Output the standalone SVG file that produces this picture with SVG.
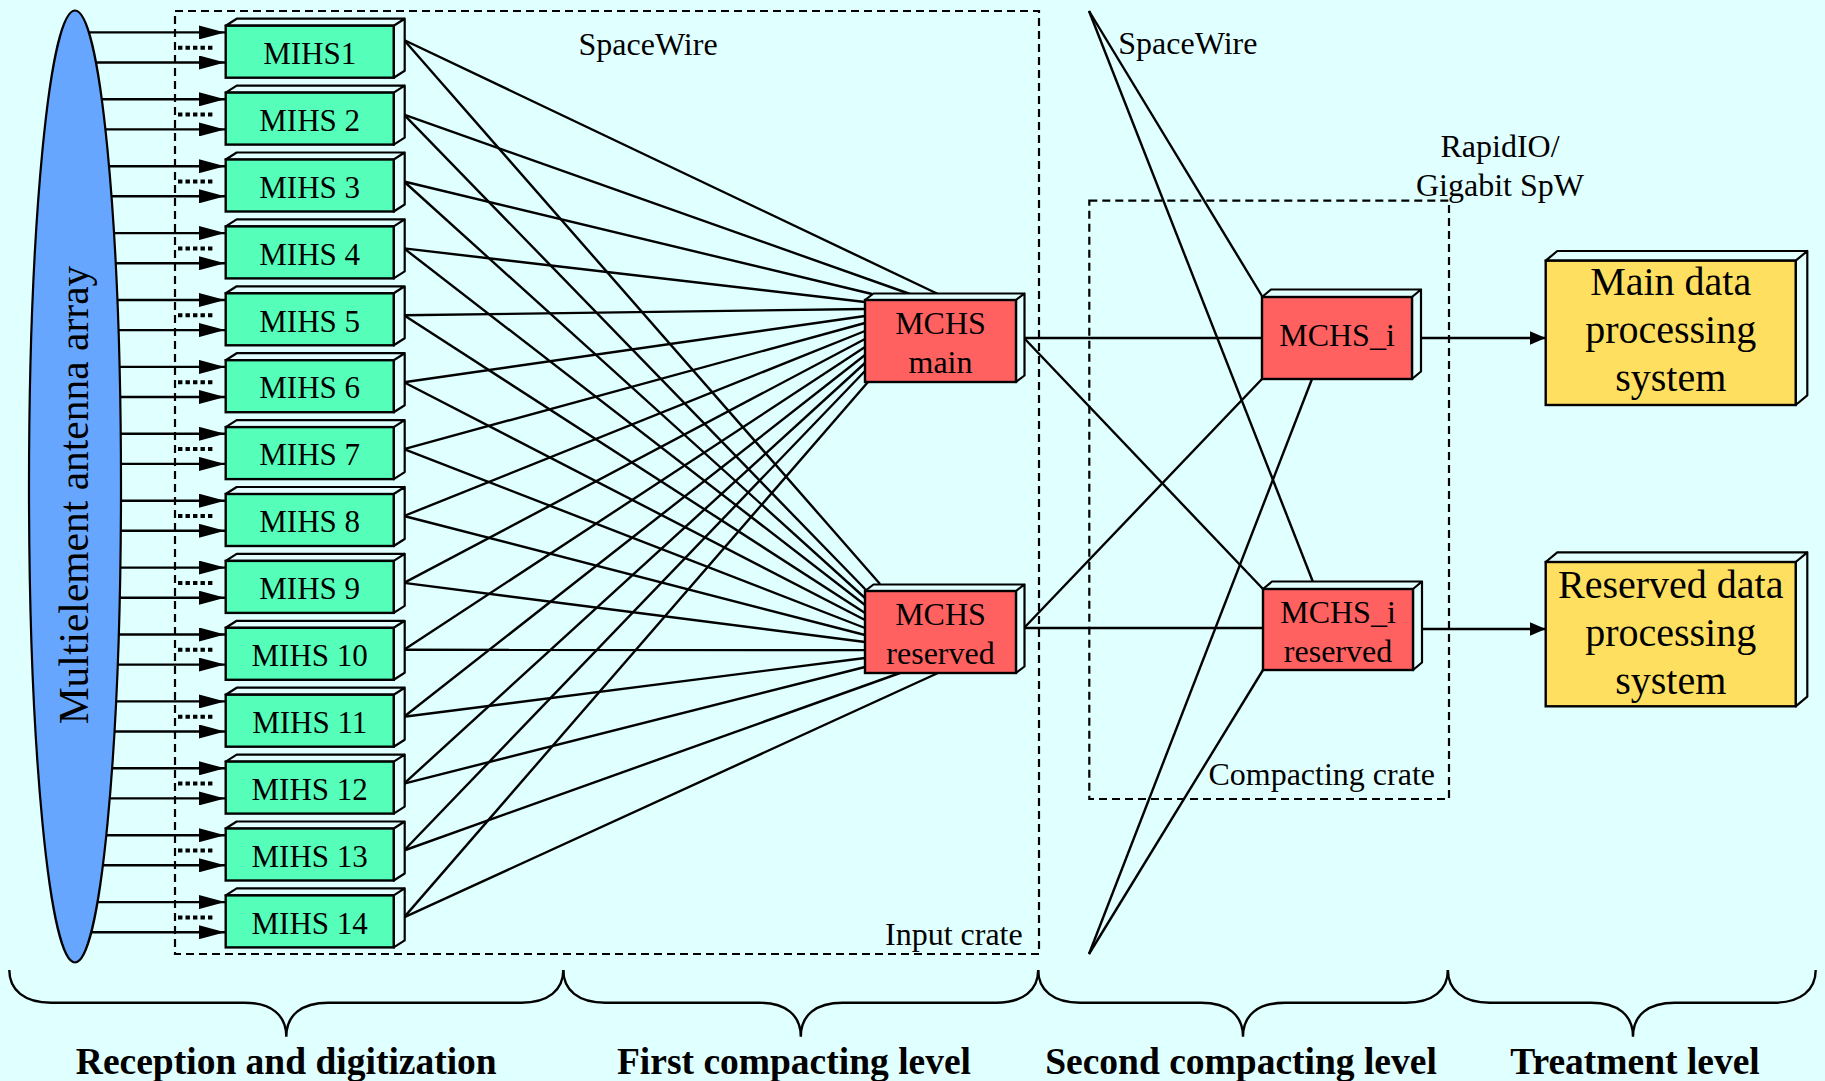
<svg xmlns="http://www.w3.org/2000/svg" width="1825" height="1081" viewBox="0 0 1825 1081">
<defs>
<style>
.t{font-family:"Liberation Serif","Times New Roman",serif;fill:#000}
.ln{stroke:#000;stroke-width:2.4;fill:none}
.arr{stroke:#000;stroke-width:2.4;fill:none;marker-end:url(#ah)}
.arr2{stroke:#000;stroke-width:2.4;fill:none;marker-end:url(#ah2)}
.dots{stroke:#000;stroke-width:4;stroke-dasharray:4.4 3.1;fill:none}
.dash{stroke:#000;stroke-width:2.2;stroke-dasharray:8 5;fill:none}
.box{stroke:#000;stroke-width:2.4}
.side{fill:#E2FFFF;stroke:#000;stroke-width:2.2;stroke-linejoin:round}
.mih{fill:#55FFB9}
.mch{fill:#FF6161}
.trt{fill:#FFDF60}
.mt{font-size:31px;text-anchor:middle}
.ct{font-size:32px;text-anchor:middle}
.tt{font-size:40px;text-anchor:middle}
.lb{font-size:32px}
.bl{font-size:37.5px;font-weight:bold;text-anchor:middle}
</style>
<marker id="ah" markerUnits="userSpaceOnUse" markerWidth="26" markerHeight="14" refX="26" refY="7" orient="auto"><path d="M0,0 L26,7 L0,14 Z" fill="#000"/></marker>
<marker id="ah2" markerUnits="userSpaceOnUse" markerWidth="16" markerHeight="14" refX="16" refY="7" orient="auto"><path d="M0,0 L16,7 L0,14 Z" fill="#000"/></marker>
</defs>
<rect x="0" y="0" width="1825" height="1081" fill="#E0FFFF"/>

<!-- crates -->
<rect class="dash" x="175" y="11" width="864" height="943"/>
<rect class="dash" x="1089.3" y="200.7" width="359.7" height="598.3"/>

<!-- antenna -->
<g id="antenna">
<ellipse cx="75" cy="486.5" rx="46" ry="476" fill="#66A6FF" stroke="#000" stroke-width="2.2"/>
<text class="t" font-size="41.5" text-anchor="middle" transform="translate(88,495) rotate(-90)">Multielement antenna array</text>
</g>

<g id="connectors">
<!-- antenna to MIHS arrows -->
<line class="arr" x1="88.8" y1="32.4" x2="225" y2="32.4"/>
<line class="arr" x1="95.9" y1="62.5" x2="225" y2="62.5"/>
<line class="arr" x1="101.8" y1="99.3" x2="225" y2="99.3"/>
<line class="arr" x1="105.4" y1="129.4" x2="225" y2="129.4"/>
<line class="arr" x1="109" y1="166.2" x2="225" y2="166.2"/>
<line class="arr" x1="111.5" y1="196.3" x2="225" y2="196.3"/>
<line class="arr" x1="113.9" y1="233.1" x2="225" y2="233.1"/>
<line class="arr" x1="115.6" y1="263.2" x2="225" y2="263.2"/>
<line class="arr" x1="117.3" y1="300" x2="225" y2="300"/>
<line class="arr" x1="118.4" y1="330.1" x2="225" y2="330.1"/>
<line class="arr" x1="119.5" y1="366.9" x2="225" y2="366.9"/>
<line class="arr" x1="120.2" y1="397" x2="225" y2="397"/>
<line class="arr" x1="120.7" y1="433.8" x2="225" y2="433.8"/>
<line class="arr" x1="121" y1="463.9" x2="225" y2="463.9"/>
<line class="arr" x1="121" y1="500.7" x2="225" y2="500.7"/>
<line class="arr" x1="120.8" y1="530.8" x2="225" y2="530.8"/>
<line class="arr" x1="120.3" y1="567.6" x2="225" y2="567.6"/>
<line class="arr" x1="119.7" y1="597.7" x2="225" y2="597.7"/>
<line class="arr" x1="118.7" y1="634.5" x2="225" y2="634.5"/>
<line class="arr" x1="117.7" y1="664.6" x2="225" y2="664.6"/>
<line class="arr" x1="116" y1="701.4" x2="225" y2="701.4"/>
<line class="arr" x1="114.4" y1="731.5" x2="225" y2="731.5"/>
<line class="arr" x1="112.1" y1="768.3" x2="225" y2="768.3"/>
<line class="arr" x1="109.7" y1="798.4" x2="225" y2="798.4"/>
<line class="arr" x1="106.3" y1="835.2" x2="225" y2="835.2"/>
<line class="arr" x1="102.9" y1="865.3" x2="225" y2="865.3"/>
<line class="arr" x1="97.4" y1="902.1" x2="225" y2="902.1"/>
<line class="arr" x1="91.2" y1="932.2" x2="225" y2="932.2"/>
<!-- dotted -->
<line class="dots" x1="178" y1="47.7" x2="215" y2="47.7"/>
<line class="dots" x1="178" y1="114.6" x2="215" y2="114.6"/>
<line class="dots" x1="178" y1="181.5" x2="215" y2="181.5"/>
<line class="dots" x1="178" y1="248.4" x2="215" y2="248.4"/>
<line class="dots" x1="178" y1="315.3" x2="215" y2="315.3"/>
<line class="dots" x1="178" y1="382.2" x2="215" y2="382.2"/>
<line class="dots" x1="178" y1="449.1" x2="215" y2="449.1"/>
<line class="dots" x1="178" y1="516" x2="215" y2="516"/>
<line class="dots" x1="178" y1="582.9" x2="215" y2="582.9"/>
<line class="dots" x1="178" y1="649.8" x2="215" y2="649.8"/>
<line class="dots" x1="178" y1="716.7" x2="215" y2="716.7"/>
<line class="dots" x1="178" y1="783.6" x2="215" y2="783.6"/>
<line class="dots" x1="178" y1="850.5" x2="215" y2="850.5"/>
<line class="dots" x1="178" y1="917.4" x2="215" y2="917.4"/>
<!-- MIHS to MCHS main -->
<line class="ln" x1="404" y1="40" x2="938" y2="294"/>
<line class="ln" x1="404" y1="114.6" x2="910" y2="294"/>
<line class="ln" x1="404" y1="181.5" x2="872" y2="294"/>
<line class="ln" x1="404" y1="248.4" x2="865" y2="302"/>
<line class="ln" x1="404" y1="315.3" x2="865" y2="309"/>
<line class="ln" x1="404" y1="382.2" x2="865" y2="316"/>
<line class="ln" x1="404" y1="449.1" x2="865" y2="323"/>
<line class="ln" x1="404" y1="516" x2="865" y2="331"/>
<line class="ln" x1="404" y1="582.9" x2="865" y2="339"/>
<line class="ln" x1="404" y1="649.8" x2="865" y2="347"/>
<line class="ln" x1="404" y1="716.7" x2="865" y2="355"/>
<line class="ln" x1="404" y1="783.6" x2="865" y2="363"/>
<line class="ln" x1="404" y1="850.5" x2="865" y2="371"/>
<line class="ln" x1="404" y1="917.4" x2="868" y2="382"/>
<!-- MIHS to MCHS reserved -->
<line class="ln" x1="404" y1="40" x2="880" y2="584"/>
<line class="ln" x1="404" y1="114.6" x2="866" y2="590"/>
<line class="ln" x1="404" y1="181.5" x2="865" y2="598"/>
<line class="ln" x1="404" y1="248.4" x2="865" y2="605"/>
<line class="ln" x1="404" y1="315.3" x2="865" y2="613"/>
<line class="ln" x1="404" y1="382.2" x2="865" y2="620"/>
<line class="ln" x1="404" y1="449.1" x2="865" y2="628"/>
<line class="ln" x1="404" y1="516" x2="865" y2="635"/>
<line class="ln" x1="404" y1="582.9" x2="865" y2="642"/>
<line class="ln" x1="404" y1="649.8" x2="865" y2="650"/>
<line class="ln" x1="404" y1="716.7" x2="865" y2="658"/>
<line class="ln" x1="404" y1="783.6" x2="865" y2="667"/>
<line class="ln" x1="404" y1="850.5" x2="900" y2="673"/>
<line class="ln" x1="404" y1="917.4" x2="938" y2="673"/>
<!-- second level -->
<line class="ln" x1="1024" y1="338" x2="1262" y2="338"/>
<line class="ln" x1="1024" y1="338" x2="1263" y2="589"/>
<line class="ln" x1="1024" y1="628" x2="1263" y2="628"/>
<line class="ln" x1="1024" y1="628" x2="1262" y2="379"/>
<line class="ln" x1="1089" y1="11" x2="1262" y2="296"/>
<line class="ln" x1="1089" y1="11" x2="1313" y2="582"/>
<line class="ln" x1="1089" y1="954" x2="1312" y2="379"/>
<line class="ln" x1="1089" y1="954" x2="1263" y2="670"/>
<!-- to treatment -->
<line class="arr2" x1="1421" y1="338" x2="1545.7" y2="338"/>
<line class="arr2" x1="1422" y1="629" x2="1545.7" y2="629"/>
</g>

<!-- MIHS nodes -->
<g id="mihs1" transform="translate(225.7,25.7)"><path class="side" d="M0,0 L11,-7 L179,-7 L168,0 Z M168,0 L179,-7 L179,45 L168,52 Z"/><rect class="mih box" width="168" height="52"/><text class="t mt" x="84" y="38.3">MIHS1</text></g>
<g id="mihs2" transform="translate(225.7,92.6)"><path class="side" d="M0,0 L11,-7 L179,-7 L168,0 Z M168,0 L179,-7 L179,45 L168,52 Z"/><rect class="mih box" width="168" height="52"/><text class="t mt" x="84" y="38.3">MIHS 2</text></g>
<g id="mihs3" transform="translate(225.7,159.5)"><path class="side" d="M0,0 L11,-7 L179,-7 L168,0 Z M168,0 L179,-7 L179,45 L168,52 Z"/><rect class="mih box" width="168" height="52"/><text class="t mt" x="84" y="38.3">MIHS 3</text></g>
<g id="mihs4" transform="translate(225.7,226.4)"><path class="side" d="M0,0 L11,-7 L179,-7 L168,0 Z M168,0 L179,-7 L179,45 L168,52 Z"/><rect class="mih box" width="168" height="52"/><text class="t mt" x="84" y="38.3">MIHS 4</text></g>
<g id="mihs5" transform="translate(225.7,293.3)"><path class="side" d="M0,0 L11,-7 L179,-7 L168,0 Z M168,0 L179,-7 L179,45 L168,52 Z"/><rect class="mih box" width="168" height="52"/><text class="t mt" x="84" y="38.3">MIHS 5</text></g>
<g id="mihs6" transform="translate(225.7,360.2)"><path class="side" d="M0,0 L11,-7 L179,-7 L168,0 Z M168,0 L179,-7 L179,45 L168,52 Z"/><rect class="mih box" width="168" height="52"/><text class="t mt" x="84" y="38.3">MIHS 6</text></g>
<g id="mihs7" transform="translate(225.7,427.1)"><path class="side" d="M0,0 L11,-7 L179,-7 L168,0 Z M168,0 L179,-7 L179,45 L168,52 Z"/><rect class="mih box" width="168" height="52"/><text class="t mt" x="84" y="38.3">MIHS 7</text></g>
<g id="mihs8" transform="translate(225.7,494)"><path class="side" d="M0,0 L11,-7 L179,-7 L168,0 Z M168,0 L179,-7 L179,45 L168,52 Z"/><rect class="mih box" width="168" height="52"/><text class="t mt" x="84" y="38.3">MIHS 8</text></g>
<g id="mihs9" transform="translate(225.7,560.9)"><path class="side" d="M0,0 L11,-7 L179,-7 L168,0 Z M168,0 L179,-7 L179,45 L168,52 Z"/><rect class="mih box" width="168" height="52"/><text class="t mt" x="84" y="38.3">MIHS 9</text></g>
<g id="mihs10" transform="translate(225.7,627.8)"><path class="side" d="M0,0 L11,-7 L179,-7 L168,0 Z M168,0 L179,-7 L179,45 L168,52 Z"/><rect class="mih box" width="168" height="52"/><text class="t mt" x="84" y="38.3">MIHS 10</text></g>
<g id="mihs11" transform="translate(225.7,694.7)"><path class="side" d="M0,0 L11,-7 L179,-7 L168,0 Z M168,0 L179,-7 L179,45 L168,52 Z"/><rect class="mih box" width="168" height="52"/><text class="t mt" x="84" y="38.3">MIHS 11</text></g>
<g id="mihs12" transform="translate(225.7,761.6)"><path class="side" d="M0,0 L11,-7 L179,-7 L168,0 Z M168,0 L179,-7 L179,45 L168,52 Z"/><rect class="mih box" width="168" height="52"/><text class="t mt" x="84" y="38.3">MIHS 12</text></g>
<g id="mihs13" transform="translate(225.7,828.5)"><path class="side" d="M0,0 L11,-7 L179,-7 L168,0 Z M168,0 L179,-7 L179,45 L168,52 Z"/><rect class="mih box" width="168" height="52"/><text class="t mt" x="84" y="38.3">MIHS 13</text></g>
<g id="mihs14" transform="translate(225.7,895.4)"><path class="side" d="M0,0 L11,-7 L179,-7 L168,0 Z M168,0 L179,-7 L179,45 L168,52 Z"/><rect class="mih box" width="168" height="52"/><text class="t mt" x="84" y="38.3">MIHS 14</text></g>

<!-- MCHS -->
<g id="mchs-main" transform="translate(865,300)"><path class="side" d="M0,0 L8.5,-6.5 L159.5,-6.5 L151,0 Z M151,0 L159.5,-6.5 L159.5,75.5 L151,82 Z"/><rect class="mch box" width="151" height="82"/><text class="t ct" x="75.5" y="34">MCHS</text><text class="t ct" x="75.5" y="72.5">main</text></g>
<g id="mchs-reserved" transform="translate(865,591)"><path class="side" d="M0,0 L8.5,-6.5 L159.5,-6.5 L151,0 Z M151,0 L159.5,-6.5 L159.5,75.5 L151,82 Z"/><rect class="mch box" width="151" height="82"/><text class="t ct" x="75.5" y="34">MCHS</text><text class="t ct" x="75.5" y="72.5">reserved</text></g>
<g id="mchs-i" transform="translate(1262,297)"><path class="side" d="M0,0 L9,-7.5 L159,-7.5 L150,0 Z M150,0 L159,-7.5 L159,74.5 L150,82 Z"/><rect class="mch box" width="150" height="82"/><text class="t ct" x="75" y="49">MCHS_i</text></g>
<g id="mchs-i-reserved" transform="translate(1263,589)"><path class="side" d="M0,0 L9,-7.5 L159,-7.5 L150,0 Z M150,0 L159,-7.5 L159,73.5 L150,81 Z"/><rect class="mch box" width="150" height="81"/><text class="t ct" x="75" y="34">MCHS_i</text><text class="t ct" x="75" y="72.5">reserved</text></g>

<!-- treatment -->
<g id="main-dps" transform="translate(1545.7,260.7)"><path class="side" d="M0,0 L11.6,-9.7 L261.6,-9.7 L250,0 Z M250,0 L261.6,-9.7 L261.6,134.6 L250,144.3 Z"/><rect class="trt box" width="250" height="144.3"/><text class="t tt" x="125" y="34.5">Main data</text><text class="t tt" x="125" y="82.5">processing</text><text class="t tt" x="125" y="130">system</text></g>
<g id="reserved-dps" transform="translate(1545.7,562)"><path class="side" d="M0,0 L11.6,-9.7 L261.6,-9.7 L250,0 Z M250,0 L261.6,-9.7 L261.6,134.6 L250,144.3 Z"/><rect class="trt box" width="250" height="144.3"/><text class="t tt" x="125" y="35.5">Reserved data</text><text class="t tt" x="125" y="84">processing</text><text class="t tt" x="125" y="132">system</text></g>

<!-- labels -->
<text class="t lb" x="578.5" y="54.5">SpaceWire</text>
<text class="t lb" x="1118.3" y="54">SpaceWire</text>
<text class="t lb" x="1500" y="157" text-anchor="middle">RapidIO/</text>
<text class="t lb" x="1500" y="195.5" text-anchor="middle">Gigabit SpW</text>
<text class="t lb" x="1435" y="785" text-anchor="end">Compacting crate</text>
<text class="t lb" x="1022.7" y="945" text-anchor="end">Input crate</text>

<!-- braces -->
<g id="braces" class="ln">
<path d="M9.3,970 C9.3,990 24.3,1002.7 51.3,1002.7 L244.3,1002.7 C271.3,1002.7 286.3,1015 286.3,1036.7 C286.3,1015 301.3,1002.7 328.3,1002.7 L521.3,1002.7 C548.3,1002.7 563.3,990 563.3,970"/>
<path d="M563.3,970 C563.3,990 578.3,1002.7 605.3,1002.7 L758.8,1002.7 C785.8,1002.7 800.8,1015 800.8,1036.7 C800.8,1015 815.8,1002.7 842.8,1002.7 L996.2,1002.7 C1023.2,1002.7 1038.2,990 1038.2,970"/>
<path d="M1038.2,970 C1038.2,990 1053.2,1002.7 1080.2,1002.7 L1201,1002.7 C1228,1002.7 1243,1015 1243,1036.7 C1243,1015 1258,1002.7 1285,1002.7 L1405.9,1002.7 C1432.9,1002.7 1447.9,990 1447.9,970"/>
<path d="M1447.9,970 C1447.9,990 1462.9,1002.7 1489.9,1002.7 L1591,1002.7 C1618,1002.7 1633,1015 1633,1036.7 C1633,1015 1648,1002.7 1675,1002.7 L1773.7,1002.7 C1800.7,1002.7 1815.7,990 1815.7,970"/>
</g>
<text class="t bl" x="286.3" y="1074">Reception and digitization</text>
<text class="t bl" x="794" y="1074">First compacting level</text>
<text class="t bl" x="1241" y="1074">Second compacting level</text>
<text class="t bl" x="1635" y="1074">Treatment level</text>
</svg>
